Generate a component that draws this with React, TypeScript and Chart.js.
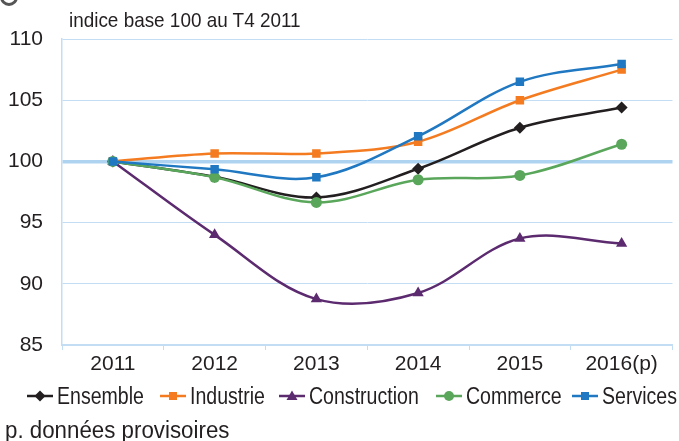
import React, { useEffect, useRef } from "react";
import { Chart, registerables } from "chart.js";

Chart.register(...registerables);

const categories = ["2011", "2012", "2013", "2014", "2015", "2016(p)"];
const ensemble = [100, 98.75, 97.05, 99.4, 102.75, 104.4];
const industrie = [100, 100.65, 100.65, 101.6, 105.0, 107.5];
const construction = [100, 94.0, 88.75, 89.25, 93.7, 93.3];
const commerce = [100, 98.7, 96.65, 98.5, 98.85, 101.4];
const services = [100, 99.35, 98.7, 102.05, 106.5, 107.95];
const yTicks = [85, 90, 95, 100, 105, 110];

const FONT = "'Liberation Sans', Arial, sans-serif";
const GRID = "#c3def4";
const TEXT = "#231f20";

const seriesStyle = [
  { label: "Ensemble", data: ensemble, color: "#231f20", point: "rectRot", radius: 6 },
  { label: "Industrie", data: industrie, color: "#f47b20", point: "rect", radius: 6 },
  { label: "Construction", data: construction, color: "#5c2a6f", point: "triangle", radius: 6.5 },
  { label: "Commerce", data: commerce, color: "#5aa75c", point: "circle", radius: 5.5 },
  { label: "Services", data: services, color: "#1f78c1", point: "rect", radius: 6 },
];

function Marker({ type, color }: { type: string; color: string }) {
  let shape: React.ReactNode = null;
  if (type === "rectRot") shape = <polygon points="13,3.5 18.5,9 13,14.5 7.5,9" fill={color} />;
  else if (type === "rect") shape = <rect x={9} y={5} width={8} height={8} fill={color} />;
  else if (type === "triangle") shape = <polygon points="13,3.5 18.5,13 7.5,13" fill={color} />;
  else shape = <circle cx={13} cy={9} r={5} fill={color} />;
  return (
    <svg width={26} height={18} style={{ display: "block" }}>
      <line x1={0} y1={9} x2={26} y2={9} stroke={color} strokeWidth={2.5} />
      {shape}
    </svg>
  );
}

export default function App() {
  const ref = useRef<HTMLCanvasElement | null>(null);

  useEffect(() => {
    if (!ref.current) return;
    const chart = new Chart(ref.current, {
      type: "line",
      data: {
        labels: categories,
        datasets: seriesStyle.map((s, i) => ({
          label: s.label,
          data: s.data,
          order: seriesStyle.length - 1 - i,
          borderColor: s.color,
          backgroundColor: s.color,
          borderWidth: 2.5,
          pointStyle: s.point as any,
          pointRadius: s.radius,
          pointBorderWidth: 0,
          tension: 0.35,
          fill: false,
        })),
      },
      options: {
        animation: false,
        responsive: false,
        maintainAspectRatio: false,
        layout: { padding: { left: 0, right: 1, top: 39, bottom: 66 } },
        plugins: {
          legend: { display: false },
          title: { display: false },
          tooltip: { enabled: false },
        },
        scales: {
          x: {
            type: "category",
            offset: true,
            grid: {
              offset: true,
              drawOnChartArea: false,
              drawTicks: true,
              tickLength: 5,
              color: GRID,
              lineWidth: 1,
            },
            border: { display: true, color: GRID, width: 2 },
            ticks: {
              color: TEXT,
              font: { family: FONT, size: 21 },
              padding: 2,
              maxRotation: 0,
              autoSkip: false,
            },
            afterFit: (scale: any) => {
              scale.height = 30;
            },
          },
          y: {
            min: 85,
            max: 110,
            afterBuildTicks: (scale: any) => {
              scale.ticks = yTicks.map((v) => ({ value: v }));
            },
            grid: {
              drawTicks: false,
              color: (ctx: any) => (ctx.tick && ctx.tick.value === 100 ? "#aed3f1" : GRID),
              lineWidth: (ctx: any) => (ctx.tick && ctx.tick.value === 100 ? 3.5 : 1),
            },
            border: { display: true, color: GRID, width: 1.5 },
            ticks: {
              color: TEXT,
              font: { family: FONT, size: 21 },
              padding: 19,
            },
            afterFit: (scale: any) => {
              scale.width = 62;
            },
          },
        },
      },
    });
    return () => chart.destroy();
  }, []);

  const legendPos = [27, 160, 279, 436, 572];

  return (
    <div
      style={{
        position: "fixed",
        left: 0,
        top: 0,
        width: 679,
        height: 441,
        background: "#ffffff",
        overflow: "hidden",
        fontFamily: FONT,
        color: TEXT,
      }}
    >
      <canvas ref={ref} width={679} height={441} style={{ position: "absolute", left: 0, top: 0 }} />
      <div
        style={{
          position: "absolute",
          left: 0,
          top: -12,
          width: 12,
          height: 12,
          borderRadius: "50%",
          border: "3px solid #555",
        }}
      />
      <div
        style={{
          position: "absolute",
          left: 69,
          top: 6,
          fontSize: 21,
          lineHeight: "28px",
          whiteSpace: "nowrap",
          transform: "scaleX(0.9)",
          transformOrigin: "left center",
        }}
      >
        indice base 100 au T4 2011
      </div>
      {seriesStyle.map((s, i) => (
        <div
          key={s.label}
          style={{
            position: "absolute",
            left: legendPos[i],
            top: 382,
            height: 28,
            display: "flex",
            alignItems: "center",
            whiteSpace: "nowrap",
          }}
        >
          <Marker type={s.point} color={s.color} />
          <span
            style={{
              marginLeft: 4,
              fontSize: 23,
              display: "inline-block",
              transform: "scaleX(0.85)",
              transformOrigin: "left center",
            }}
          >
            {s.label}
          </span>
        </div>
      ))}
      <div
        style={{
          position: "absolute",
          left: 5,
          top: 416,
          fontSize: 23,
          lineHeight: "28px",
          whiteSpace: "nowrap",
          transform: "scaleX(0.97)",
          transformOrigin: "left center",
        }}
      >
        p. données provisoires
      </div>
    </div>
  );
}
